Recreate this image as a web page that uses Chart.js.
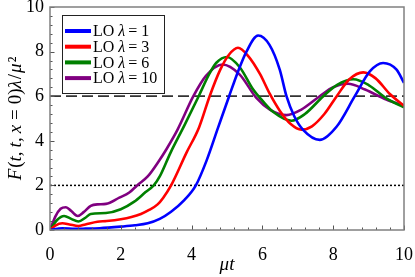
<!DOCTYPE html>
<html>
<head>
<meta charset="utf-8">
<script src="https://cdn.jsdelivr.net/npm/chart.js@4.4.0/dist/chart.umd.min.js"></script>
<style>
html, body { margin: 0; padding: 0; background: #fff; }
</style>
</head>
<body>
<canvas id="myChart" width="415" height="277"></canvas>
<script>
// lambda values for the legend
const lambdas = [1, 3, 6, 10]

// mu*t sample points and F values
const t_l1 = [0, 0.35, 0.7, 1.0, 1.4, 2.0, 2.4, 2.76, 3.1, 3.42, 3.8, 4.12, 4.42, 4.75, 5.06, 5.31, 5.55, 5.88, 6.2, 6.49, 6.68, 6.9, 7.15, 7.62, 8.1, 8.61, 9.04, 9.41, 9.79, 10]
const f_l1 = [0, 0.08, 0.05, 0.06, 0.08, 0.15, 0.21, 0.3, 0.5, 0.82, 1.35, 2.0, 3.1, 4.6, 6.0, 7.1, 8.0, 8.72, 8.3, 7.19, 6.0, 5.1, 4.49, 4.04, 4.64, 6.0, 7.12, 7.49, 7.19, 6.6]

const t_l3 = [0, 0.15, 0.35, 0.55, 0.8, 1.0, 1.34, 1.6, 2.0, 2.3, 2.57, 2.8, 3.04, 3.2, 3.42, 3.85, 4.21, 4.51, 4.81, 5.05, 5.31, 5.6, 5.93, 6.21, 6.49, 6.8, 7.1, 7.4, 7.75, 8.1, 8.45, 8.85, 9.2, 9.6, 10]
const f_l3 = [0, 0.2, 0.3, 0.25, 0.18, 0.25, 0.37, 0.4, 0.48, 0.58, 0.72, 0.9, 1.15, 1.45, 2.0, 3.45, 4.6, 6.0, 7.19, 7.85, 8.17, 7.8, 7.0, 6.1, 5.35, 4.75, 4.5, 4.65, 5.2, 6.0, 6.75, 7.07, 6.8, 6.1, 5.57]

const t_l6 = [0, 0.2, 0.4, 0.6, 0.8, 1.0, 1.15, 1.58, 2.0, 2.38, 2.7, 2.93, 3.1, 3.4, 3.8, 4.2, 4.5, 4.7, 5.0, 5.36, 5.74, 6.0, 6.3, 6.82, 7.2, 7.72, 8.1, 8.57, 9.0, 9.5, 10]
const f_l6 = [0, 0.45, 0.63, 0.5, 0.38, 0.55, 0.72, 0.76, 0.93, 1.27, 1.7, 2.0, 2.4, 3.45, 4.7, 6.0, 7.0, 7.5, 7.76, 7.3, 6.3, 5.8, 5.3, 4.9, 5.2, 6.0, 6.5, 6.76, 6.5, 5.9, 5.5]

const t_l10 = [0, 0.15, 0.3, 0.45, 0.6, 0.78, 0.95, 1.15, 1.34, 1.58, 1.96, 2.24, 2.46, 2.76, 3.1, 3.28, 3.6, 4.05, 4.4, 4.87, 5.36, 5.83, 6.21, 6.68, 7.1, 7.62, 8.0, 8.42, 8.9, 9.5, 10]
const f_l10 = [0, 0.6, 0.95, 1.02, 0.85, 0.63, 0.8, 1.08, 1.15, 1.17, 1.45, 1.68, 2.0, 2.4, 3.15, 3.6, 4.49, 6.0, 6.9, 7.42, 6.97, 5.92, 5.4, 5.15, 5.4, 6.0, 6.4, 6.56, 6.3, 5.85, 5.57]

// horizontal reference levels
const dashedLevel = 6
const dottedLevel = 2

// axis ticks
const xTicks = [0, 2, 4, 6, 8, 10]
const yTicks = [0, 2, 4, 6, 8, 10]

const pts = (ts, fs) => ts.map((t, i) => ({x: t, y: fs[i]}))

function curve(ts, fs, lam, color) {
    return {
        label: 'LO λ = ' + lam,
        data: pts(ts, fs),
        borderColor: color,
        borderWidth: 2.6,
        pointRadius: 0,
        fill: false,
        cubicInterpolationMode: 'monotone'
    }
}

function hline(v, dash, width, color) {
    return {
        label: '',
        data: [{x: 0, y: v}, {x: 10, y: v}],
        borderColor: color,
        borderWidth: width,
        borderDash: dash,
        pointRadius: 0,
        fill: false,
        isRef: true
    }
}

// draw text made of upright and italic pieces: [text, italic, gapAfter]
function richWidth(ctx, segs, size) {
    let w = 0
    for (const s of segs) {
        ctx.font = (s[1] ? 'italic ' : '') + size + 'px "Liberation Serif"'
        w += ctx.measureText(s[0]).width + (s[2] || 0)
    }
    return w
}
function drawRich(ctx, segs, x, y, size, align) {
    let w = richWidth(ctx, segs, size)
    let cx = align == 'left' ? x : x - w / 2
    ctx.textBaseline = 'middle'
    ctx.textAlign = 'left'
    for (const s of segs) {
        ctx.font = (s[1] ? 'italic ' : '') + size + 'px "Liberation Serif"'
        ctx.fillText(s[0], cx, y)
        cx += ctx.measureText(s[0]).width + (s[2] || 0)
    }
}

// keep the plot box where it is in the picture (no room kept for end labels)
function noPad(s) {
    s.paddingTop = 0; s.paddingBottom = 0; s.paddingLeft = 0; s.paddingRight = 0
}

const extras = {
    id: 'extras',
    afterDatasetsDraw(chart) {
        const ctx = chart.ctx
        const a = chart.chartArea
        const xs = chart.scales.x, ys = chart.scales.y
        ctx.save()
        // minor + major inward ticks every 0.4
        ctx.strokeStyle = '#555'
        ctx.lineWidth = 1
        for (let i = 0; i <= 25; i++) {
            const v = i * 0.4
            const len = (i % 5 == 0) ? 4.5 : 2.5
            const px = Math.round(xs.getPixelForValue(v)) + 0.5
            const py = Math.round(ys.getPixelForValue(v)) + 0.5
            ctx.beginPath()
            ctx.moveTo(px, a.bottom); ctx.lineTo(px, a.bottom - len)
            ctx.moveTo(a.left, py); ctx.lineTo(a.left + len, py)
            ctx.stroke()
        }
        // frame
        ctx.strokeStyle = '#808080'
        ctx.lineWidth = 1.5
        ctx.strokeRect(a.left, a.top, a.right - a.left, a.bottom - a.top)

        // legend
        const lx = a.left + 12, ly = a.top + 8
        ctx.fillStyle = '#fff'
        ctx.fillRect(lx, ly, 102, 78)
        ctx.strokeStyle = '#222'
        ctx.lineWidth = 1
        ctx.strokeRect(lx + 0.5, ly + 0.5, 102, 78)
        ctx.fillStyle = '#000'
        chart.data.datasets.filter(d => !d.isRef).forEach((d, i) => {
            const ry = ly + 16 + i * 15.7
            ctx.strokeStyle = d.borderColor
            ctx.lineWidth = 4
            ctx.beginPath()
            ctx.moveTo(lx + 3, ry); ctx.lineTo(lx + 29, ry)
            ctx.stroke()
            drawRich(ctx, [['LO ', 0], ['λ', 1, 3], ['= ' + lambdas[i], 0]], lx + 31, ry + 1, 16, 'left')
        })

        // axis titles
        ctx.fillStyle = '#000'
        drawRich(ctx, [['μt', 1]], (a.left + a.right) / 2, 265, 19)
        ctx.translate(16, (a.top + a.bottom) / 2)
        ctx.rotate(-Math.PI / 2)
        drawRich(ctx, [['F', 1, 1], ['(', 0], ['t', 1], [',', 0, 4], ['t', 1], [',', 0, 4], ['x', 1, 5], ['=', 0, 5], ['0)', 0], ['λ', 1, 1], ['/', 0, 1], ['μ', 1, 1], ['²', 0]], 0, 0, 19)
        ctx.restore()
    }
}

var ctx = document.getElementById('myChart').getContext('2d')

var myChart = new Chart(ctx, {
    type: 'line',
    data: {
        datasets: [
            curve(t_l1, f_l1, lambdas[0], '#0000ff'),
            curve(t_l3, f_l3, lambdas[1], '#ff0000'),
            curve(t_l6, f_l6, lambdas[2], '#008000'),
            curve(t_l10, f_l10, lambdas[3], '#800080'),
            hline(dashedLevel, [11, 5], 1.8, '#333'),
            hline(dottedLevel, [2, 2], 1.5, '#000')
        ]
    },
    options: {
        responsive: false,
        animation: false,
        devicePixelRatio: 1,
        layout: { autoPadding: false, padding: { top: 7, right: 11, left: 0, bottom: 0 } },
        plugins: { legend: { display: false }, tooltip: { enabled: false } },
        scales: {
            x: {
                type: 'linear', min: 0, max: 10,
                grid: { display: false, drawTicks: false },
                border: { display: false },
                afterBuildTicks: s => { s.ticks = xTicks.map(v => ({value: v})) },
                afterFit: s => { s.height = 47; noPad(s) },
                ticks: { padding: 14, color: '#000', font: { family: 'Liberation Serif', size: 18 } }
            },
            y: {
                type: 'linear', min: 0, max: 10,
                grid: { display: false, drawTicks: false },
                border: { display: false },
                afterBuildTicks: s => { s.ticks = yTicks.map(v => ({value: v})) },
                afterFit: s => { s.width = 50; noPad(s) },
                ticks: { padding: 6, color: '#000', font: { family: 'Liberation Serif', size: 18 } }
            }
        }
    },
    plugins: [extras]
})
</script>
</body>
</html>
